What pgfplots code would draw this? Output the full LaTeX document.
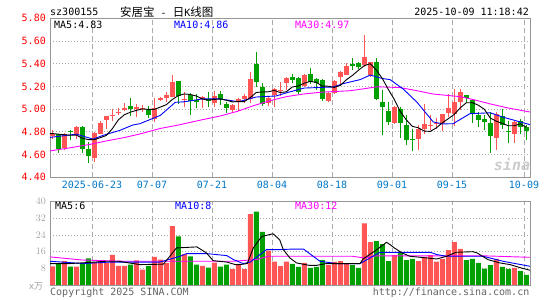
\documentclass[border=0pt]{standalone}
\usepackage{fontspec}
\setmainfont{DejaVu Sans Mono}
\newfontfamily\cjk{Noto Sans CJK SC}
\usepackage{pgfplots}
\pgfplotsset{compat=1.18}
\usepackage{pgfplotstable}
\definecolor{cred}{RGB}{255,85,85}
\definecolor{cgreen}{RGB}{0,160,0}
\definecolor{tred}{RGB}{255,0,0}
\definecolor{tblue}{RGB}{0,120,200}
\definecolor{gridc}{RGB}{170,170,170}
\definecolor{framec}{RGB}{150,150,150}
\definecolor{ma10c}{RGB}{0,0,255}
\definecolor{ma30c}{RGB}{255,0,255}
\definecolor{txtgray}{RGB}{100,100,100}
\definecolor{volgray}{RGB}{160,160,160}
\newcommand\fs{\fontsize{10bp}{12bp}\selectfont}

\pgfplotstableread{
i O H L C V
0 4.760 4.820 4.740 4.785 9.0
2 4.662 4.790 4.638 4.785 11.5
4 4.776 4.855 4.740 4.840 8.8
7 4.571 4.800 4.537 4.787 11.0
8 4.785 4.900 4.780 4.882 11.5
9 4.902 4.937 4.825 4.937 10.5
10 4.940 5.000 4.900 4.945 14.5
11 4.965 5.013 4.946 4.975 9.2
12 4.990 5.050 4.985 5.010 9.2
14 5.003 5.046 4.930 5.017 11.8
15 5.003 5.038 4.974 5.012 7.4
17 4.916 5.096 4.887 5.012 13.5
18 5.084 5.110 5.075 5.096 12.2
19 5.096 5.148 5.060 5.125 10.5
20 5.104 5.300 5.104 5.240 28.3
22 5.085 5.147 5.020 5.090 14.8
25 5.087 5.120 5.010 5.110 9.2
27 5.055 5.160 5.020 5.119 10.8
30 4.990 5.043 4.966 5.034 7.6
31 5.069 5.100 4.980 5.087 10.2
32 5.090 5.137 5.055 5.113 7.6
33 5.093 5.324 5.055 5.263 34.0
36 5.057 5.116 5.025 5.100 16.5
37 5.128 5.190 5.016 5.175 11.2
38 5.160 5.240 5.120 5.166 9.1
39 5.230 5.283 5.166 5.275 11.2
42 5.204 5.310 5.198 5.300 10.6
46 5.075 5.151 5.063 5.145 9.6
47 5.145 5.254 5.137 5.248 11.1
48 5.283 5.333 5.219 5.327 11.5
49 5.304 5.406 5.298 5.377 10.1
52 5.386 5.650 5.371 5.459 29.6
53 5.304 5.418 5.283 5.412 20.6
57 4.881 5.025 4.873 5.019 14.4
61 4.735 4.858 4.638 4.823 11.5
62 4.823 5.049 4.785 4.873 13.4
63 4.860 4.946 4.814 4.864 14.4
64 4.873 4.925 4.829 4.879 11.2
65 4.882 4.960 4.805 4.955 12.5
66 4.967 5.131 4.930 5.011 16.8
67 4.961 5.175 4.852 5.063 20.6
68 5.063 5.175 4.990 5.151 17.3
74 4.747 4.975 4.644 4.961 12.5
77 4.785 4.896 4.706 4.887 8.2
}\redT

\pgfplotstableread{
i O H L C V
1 4.780 4.785 4.615 4.653 10.0
3 4.805 4.820 4.730 4.798 8.8
5 4.840 4.855 4.610 4.653 10.0
6 4.647 4.715 4.530 4.585 12.8
13 5.031 5.100 4.943 4.999 9.8
16 5.003 5.032 4.922 4.951 9.2
21 5.249 5.250 5.046 5.120 23.3
23 5.122 5.145 4.950 5.072 13.8
24 5.078 5.137 5.013 5.060 9.8
26 5.093 5.151 5.020 5.069 8.4
28 5.130 5.160 5.034 5.087 8.8
29 5.049 5.063 4.966 5.010 9.8
34 5.398 5.500 5.195 5.239 35.2
35 5.195 5.233 5.025 5.049 25.5
40 5.280 5.310 5.233 5.257 10.1
41 5.272 5.280 5.130 5.148 8.7
43 5.307 5.365 5.225 5.240 8.2
44 5.268 5.277 5.166 5.233 8.7
45 5.254 5.263 5.075 5.093 12.0
50 5.400 5.453 5.342 5.383 9.6
51 5.406 5.415 5.357 5.371 8.2
54 5.415 5.453 5.078 5.093 21.1
55 5.063 5.166 4.770 5.019 19.6
56 4.981 5.063 4.858 4.887 11.5
58 5.005 5.019 4.750 4.879 15.4
59 4.864 4.946 4.682 4.726 12.0
60 4.740 4.829 4.632 4.735 12.5
69 5.122 5.128 5.055 5.100 12.0
70 5.078 5.093 4.879 4.960 12.5
71 4.946 4.975 4.843 4.902 10.6
72 4.911 4.946 4.814 4.887 7.9
73 4.882 4.975 4.618 4.761 9.6
75 4.937 5.000 4.829 4.858 8.7
76 4.808 4.893 4.703 4.805 7.7
78 4.896 4.917 4.785 4.843 6.8
79 4.843 4.858 4.732 4.808 4.9
}\greenT

\pgfplotsset{
  kbase/.style={
    scale only axis, width=480bp,
    xmin=-0.38, xmax=79.62,
    axis line style={draw=framec, line width=0.8bp},
    major tick length=0pt,
    xtick={6.62,16.62,26.62,36.62,46.62,56.62,66.62,78.62},
    xmajorgrids, ymajorgrids,
    x grid style={draw=gridc, line width=0.8bp, dash pattern=on 5bp off 3bp},
    y grid style={draw=gridc, line width=0.8bp, dash pattern=on 1bp off 2bp},
    ticklabel style={font=\fs},
    clip=true,
  }
}

\begin{document}
\begin{tikzpicture}
\useasboundingbox (0,0) rectangle (545bp,300bp);

% price panel
\begin{axis}[kbase,
  at={(50bp,122.7bp)}, anchor=south west, height=159bp,
  ymin=4.40, ymax=5.80,
  ytick={4.4,4.6,4.8,5.0,5.2,5.4,5.6,5.8},
  yticklabels={4.40,4.60,4.80,5.00,5.20,5.40,5.60,5.80},
  yticklabel style={text=tred, inner sep=0pt, xshift=-4bp, anchor=east},
  xticklabels={2025-06-23,07-07,07-21,08-04,08-18,09-01,09-15,10-09},
  xticklabel style={text=tblue, inner sep=0pt, yshift=-4bp, anchor=north},
]
\addplot[cred, line width=1bp, no markers, quiver={u=0, v=\thisrow{H}-\thisrow{L}}] table[x=i, y=L]{\redT};
\addplot[cred, line width=5bp, no markers, quiver={u=0, v=\thisrow{C}-\thisrow{O}}] table[x=i, y=O]{\redT};
\addplot[cgreen, line width=1bp, no markers, quiver={u=0, v=\thisrow{H}-\thisrow{L}}] table[x=i, y=L]{\greenT};
\addplot[cgreen, line width=5bp, no markers, quiver={u=0, v=\thisrow{C}-\thisrow{O}}] table[x=i, y=O]{\greenT};
% MA30
\addplot[ma30c, line width=0.9bp, no markers] coordinates {(-0.4,4.632) (3,4.66) (6.3,4.69) (9,4.72) (12,4.75) (14.5,4.78) (18,4.83) (21,4.86) (25,4.907) (28,4.94) (30.8,4.98) (33.5,5.03) (36.3,5.075) (39,5.11) (41.8,5.133) (45,5.15) (49.6,5.162) (52,5.18) (54.1,5.197) (58,5.19) (61,5.16) (63.5,5.133) (68,5.11) (70.5,5.08) (73,5.046) (76,5.01) (79.6,4.975)};
% MA10
\addplot[ma10c, line width=0.9bp, no markers] coordinates {(-0.4,4.751) (4,4.78) (6.8,4.736) (8.5,4.77) (11.3,4.814) (13.4,4.86) (14.6,4.872) (18,4.945) (20.5,5.06) (22,5.065) (25,5.09) (28,5.09) (31,5.065) (34,5.107) (37.3,5.116) (39.5,5.151) (42,5.186) (46.8,5.195) (48.5,5.225) (51.3,5.26) (53,5.30) (55,5.27) (56.3,5.26) (58.5,5.177) (60.8,5.06) (63.5,4.887) (65.1,4.87) (66.8,4.872) (69.6,4.96) (73,4.968) (75.1,4.93) (79.6,4.864)};
% MA5
\addplot[black, line width=0.9bp, no markers] coordinates {(-0.4,4.785) (0,4.785) (1,4.78) (2,4.775) (3,4.77) (4,4.772) (5,4.744) (6,4.732) (7,4.732) (8,4.749) (9,4.768) (10,4.827) (11,4.905) (12,4.95) (13,4.973) (14,4.989) (15,5.002) (16,4.998) (17,4.998) (18,5.018) (19,5.039) (20,5.085) (21,5.119) (22,5.134) (23,5.129) (24,5.116) (25,5.09) (26,5.08) (27,5.086) (28,5.089) (29,5.079) (30,5.064) (31,5.067) (32,5.066) (33,5.101) (34,5.147) (35,5.151) (36,5.153) (37,5.165) (38,5.146) (39,5.153) (40,5.195) (41,5.204) (42,5.229) (43,5.244) (44,5.236) (45,5.203) (46,5.202) (47,5.192) (48,5.209) (49,5.258) (50,5.296) (51,5.341) (52,5.383) (53,5.40) (54,5.344) (55,5.271) (56,5.174) (57,5.086) (58,4.979) (59,4.906) (60,4.849) (61,4.836) (62,4.807) (63,4.804) (64,4.835) (65,4.879) (66,4.916) (67,4.954) (68,5.012) (69,5.056) (70,5.057) (71,5.035) (72,5.0) (73,4.922) (74,4.894) (75,4.874) (76,4.854) (77,4.854) (78,4.871) (79,4.840)};
\end{axis}

% volume panel
\begin{axis}[kbase,
  at={(50bp,15bp)}, anchor=south west, height=83.3bp,
  ymin=0, ymax=40,
  ytick={8,16,24,32,40},
  yticklabel style={text=volgray, inner sep=0pt, xshift=-4bp, anchor=east},
  xticklabels={},
]
\addplot[ybar, bar width=5bp, bar shift=0pt, fill=cred, draw=none] table[x=i, y=V]{\redT};
\addplot[ybar, bar width=5bp, bar shift=0pt, fill=cgreen, draw=none] table[x=i, y=V]{\greenT};
\addplot[ma30c, line width=0.9bp, no markers] coordinates {(-0.4,13.5) (5,12) (12,11.4) (30,11.4) (34,12.2) (36,13.8) (50,13.8) (52,13) (54,14) (72,14) (79.6,13.3)};
\addplot[ma10c, line width=0.9bp, no markers] coordinates {(-0.4,11.4) (5.2,10.3) (9.6,11) (17.9,11) (21.3,13.8) (22.4,15.1) (25.7,15.1) (29.1,14.1) (30.2,12.2) (31.8,10.3) (33,11) (35.7,17) (38,17) (39.6,17.2) (41.9,17.2) (44.6,11.4) (47.4,10.3) (51.3,10.3) (54.6,15.7) (63,15.7) (64.1,14.6) (65.7,13.8) (71.8,13.8) (75.1,11.4) (79.6,9.0)};
\addplot[black, line width=0.9bp, no markers] coordinates {(-0.4,10.3) (3,10.3) (6,10.8) (9,11.4) (11,11.4) (14.6,9.8) (18.5,10) (19.6,13.8) (20.7,17.8) (24.1,18.3) (25.7,15.4) (26.8,11.7) (29.1,11) (30.5,9.8) (31.3,9.8) (32.5,10.3) (33.5,17.8) (34.9,23.3) (36.8,24.6) (37.9,21.7) (38.5,17) (39.6,13) (40.7,10.6) (42.9,9.4) (44,9.4) (45.7,10.3) (51.3,10.3) (51.8,12.5) (54.1,17) (55.7,20.5) (56.3,19.4) (57,17.8) (58.3,15.4) (59.6,13.8) (62.4,13) (64.1,12.5) (65.7,13.8) (67.3,15.7) (70.1,16) (70.8,15.4) (72.6,12.2) (74.6,10.6) (76.3,9.8) (78,8.3) (79.6,7.1)};
\end{axis}

% texts
\node[anchor=west, inner sep=0pt, font=\fs] at (50bp,288bp) {sz300155};
\node[anchor=west, inner sep=0pt, font=\fs] at (120bp,288bp) {{\cjk\fontsize{11.5bp}{13bp}\selectfont 安居宝} - {\cjk\fontsize{11.5bp}{13bp}\selectfont 日}K{\cjk\fontsize{11.5bp}{13bp}\selectfont 线图}};
\node[anchor=east, inner sep=0pt, font=\fs] at (529bp,288bp) {2025-10-09 11:18:42};
\node[anchor=west, inner sep=0pt, font=\fs] at (54bp,275bp) {MA5:4.83};
\node[anchor=west, inner sep=0pt, font=\fs, text=ma10c] at (174bp,275bp) {MA10:4.86};
\node[anchor=west, inner sep=0pt, font=\fs, text=ma30c] at (295bp,275bp) {MA30:4.97};
\node[anchor=west, inner sep=0pt, font=\fs] at (55bp,94bp) {MA5:6};
\node[anchor=west, inner sep=0pt, font=\fs, text=ma10c] at (175bp,94bp) {MA10:8};
\node[anchor=west, inner sep=0pt, font=\fs, text=ma30c] at (295bp,94bp) {MA30:12};
\node[anchor=center, inner sep=0pt, text=volgray] at (36bp,14bp) {\fontsize{9bp}{10bp}\selectfont x\cjk 万};
\node[anchor=west, inner sep=0pt, font=\fs, text=txtgray] at (50bp,7bp) {Copyright 2025 SINA.COM};
\node[anchor=east, inner sep=0pt, font=\fs, text=txtgray] at (529.5bp,7bp) {http://finance.sina.com.cn};
\node[anchor=center, inner sep=0pt, text=gray!40] at (512bp,135bp) {\fontsize{15bp}{16bp}\selectfont\bfseries\itshape sina};
\end{tikzpicture}
\end{document}
